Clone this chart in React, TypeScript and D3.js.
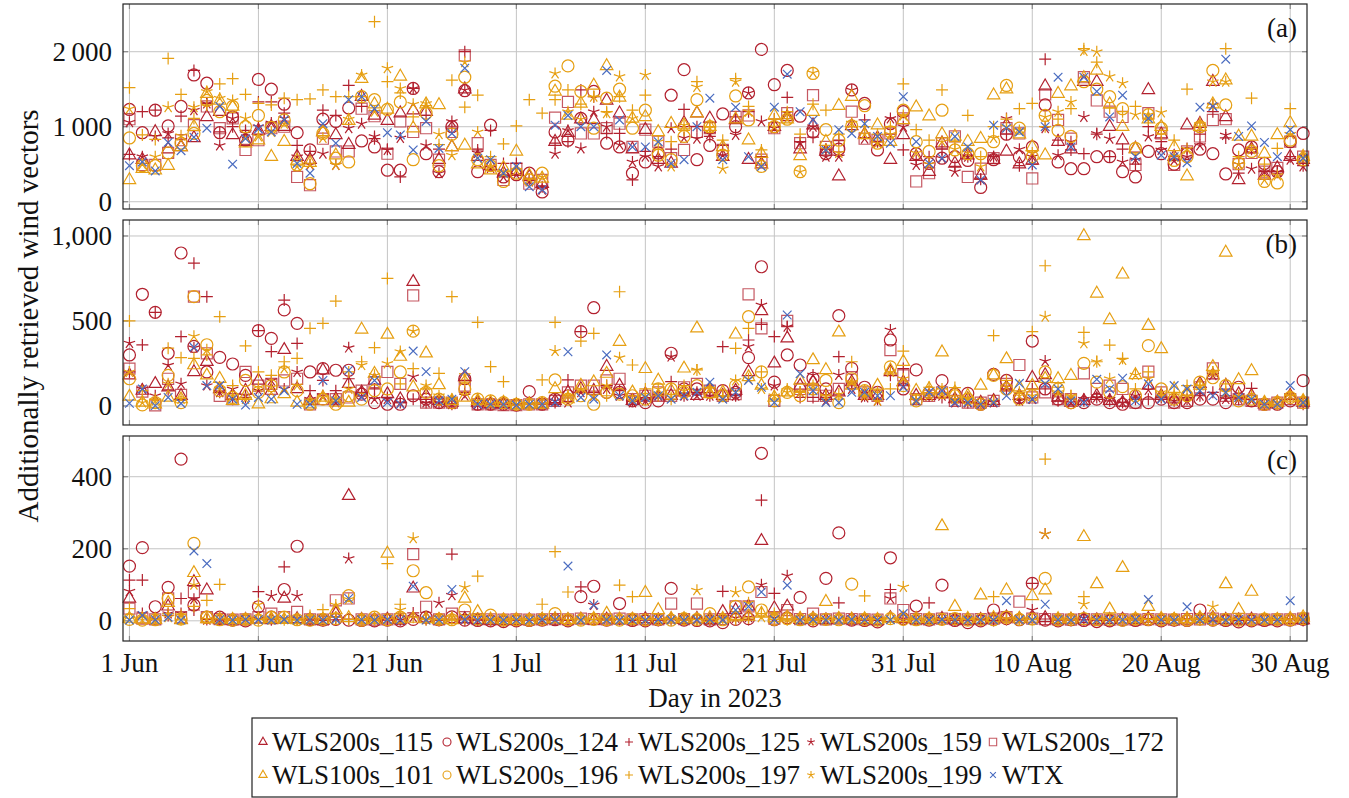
import React, { useEffect, useRef } from 'react';
import * as d3 from 'd3';

// series in legend order
const seriesNames = ['WLS200s_115', 'WLS200s_124', 'WLS200s_125', 'WLS200s_159', 'WLS200s_172',
  'WLS100s_101', 'WLS200s_196', 'WLS200s_197', 'WLS200s_199', 'WTX'];
const seriesMarkers = ['triangle', 'circle', 'plus', 'star', 'square', 'triangle', 'circle', 'plus', 'star', 'cross'];
const RED = '#b2202e';
const YEL = '#e69f12';
const BLUE = '#4a6cc0';
const seriesColors = [RED, RED, RED, RED, RED, YEL, YEL, YEL, YEL, BLUE];

// day index 0 = 1 Jun 2023 ... 91 = 31 Aug 2023
const days = d3.range(92);
const startDate = new Date(2023, 5, 1);
const xTickDays = [0, 10, 20, 30, 40, 50, 60, 70, 80, 90];

// panel (a)
const a115 = [620, 560, 930, 700, 730, 850, 1130, 1200, 890, 800, 950, 1000, 1000, 600, 560, 930, 890, 760, 1400, 1150,
  1080, 1180, 1220, 1200, 560, 730, 1500, 600, 480, 380, 400, 330, 240, 800, 920, 1100, 1090, 1350, 1180, 700,
  960, 560, 510, 1050, 1180, 1110, 600, 1090, 560, 500, 1000, 1130, 700, 1020, 670, 340, 1010, 900, 850, 560,
  890, 600, 400, 780, 510, 620, 350, 560, 670, 500, 550, 1540, 800, 700, 1600, 1600, 1000, 820, 710, 1490,
  900, 600, 1020, 1040, 1600, 1130, 290, 700, 350, 450, 600, 560];
const a124 = [1230, 920, 1220, 1010, 1270, 1690, 1580, 920, 1130, 820, 1630, 1500, 1300, 920, 690, 1100, 1070, 1250, 810, 730,
  420, 420, 1510, 640, 400, 1000, 1480, 400, 1020, 330, 360, 380, 130, 930, 820, 1110, 1470, 780, 730, 380,
  530, 650, 1420, 1760, 560, 750, 1170, 1000, 1450, 2030, 1560, 1750, 1140, 930, 640, 700, 1490, 1310, 690, 1040,
  1200, 640, 510, 580, 600, 550, 190, 560, 900, 600, 730, 1290, 530, 440, 440, 600, 600, 400, 330, 670,
  640, 500, 640, 700, 640, 370, 690, 730, 510, 400, 800, 910];
const a125 = [630, 1200, 1220, 850, 1140, 1750, 1310, 930, 1000, 950, 1330, 1330, 1180, 750, 670, 1220, 1150, 1550, 1270, 840,
  700, 330, 1510, 1150, 700, 980, 2000, 690, 950, 510, 510, 300, 200, 780, 800, 1490, 1400, 910, 910, 290,
  670, 600, 700, 1230, 1000, 870, 750, 1130, 1200, 600, 1100, 1390, 800, 860, 700, 820, 1000, 1090, 800, 900,
  690, 550, 600, 700, 470, 600, 300, 600, 900, 480, 500, 1900, 820, 690, 640, 900, 600, 700, 500, 1000,
  800, 600, 710, 900, 1200, 850, 380, 700, 400, 400, 600, 480];
const a159 = [1060, 600, 870, 910, 820, 1220, 1310, 750, 1110, 910, 1000, 1050, 1110, 600, 490, 640, 490, 980, 1040, 870,
  690, 850, 1510, 750, 380, 1070, 1490, 650, 450, 330, 360, 270, 160, 640, 950, 710, 1200, 1000, 760, 530,
  600, 470, 980, 850, 840, 900, 620, 890, 1450, 1070, 980, 1180, 780, 1000, 600, 600, 1490, 840, 800, 1110,
  1000, 490, 500, 580, 400, 600, 300, 600, 1110, 700, 600, 980, 620, 800, 1130, 910, 840, 530, 560, 870,
  690, 550, 600, 750, 1290, 890, 500, 440, 400, 400, 560, 470];
const a172 = [1100, 490, 490, 650, 820, 1020, 1270, 980, 1110, 690, 820, 980, 1000, 330, 220, 840, 670, 670, 1240, 1140,
  640, 1070, 930, 980, 560, 930, 1950, 780, 490, 290, 440, 240, 290, 1120, 1330, 910, 910, 980, 1040, 730,
  960, 800, 580, 690, 930, 980, 690, 1130, 1150, 560, 980, 1180, 780, 1420, 730, 740, 1200, 840, 820, 910,
  1110, 270, 380, 780, 870, 330, 440, 580, 980, 910, 310, 1430, 1090, 840, 1660, 1350, 1200, 1130, 490, 1180,
  910, 490, 670, 870, 1090, 1100, 500, 650, 400, 450, 800, 600];
const a101 = [290, 440, 420, 480, 730, 1000, 1440, 1350, 1270, 780, 820, 600, 800, 550, 520, 930, 620, 1080, 1640, 1300,
  1230, 1670, 980, 1300, 1290, 730, 750, 500, 420, 450, 670, 350, 310, 1470, 1150, 1310, 1550, 1810, 1390, 1110,
  1130, 930, 1040, 1020, 1180, 1000, 730, 1100, 820, 640, 1150, 1100, 610, 1200, 800, 1280, 1400, 890, 1020, 800,
  1090, 1260, 1140, 900, 870, 800, 840, 1420, 1500, 900, 730, 620, 1440, 1540, 1650, 1750, 1300, 1000, 700, 1100,
  1000, 730, 340, 1000, 1300, 1620, 870, 870, 640, 890, 1050, 600];
const a196 = [850, 480, 480, 650, 780, 910, 1350, 1200, 1270, 1000, 1150, 990, 1090, 490, 240, 910, 580, 530, 1400, 1360,
  1230, 1330, 560, 1180, 480, 900, 1660, 560, 480, 270, 380, 290, 380, 1540, 1810, 1470, 980, 1380, 1500, 980,
  1220, 620, 560, 870, 1360, 1000, 620, 1410, 1090, 470, 1000, 1100, 400, 1710, 960, 820, 1010, 1280, 780, 930,
  1220, 800, 670, 1220, 690, 640, 640, 800, 1550, 980, 600, 1150, 950, 870, 1600, 1500, 1400, 1240, 710, 1160,
  980, 550, 600, 1000, 1750, 1290, 510, 670, 270, 250, 820, 560];
const a197 = [1520, 890, 830, 1910, 1430, 1110, 1290, 1570, 1640, 1430, 1310, 1290, 1380, 1360, 1370, 1490, 1400, 1400, 1400, 2400,
  1600, 1450, 1130, 1280, 760, 1620, 1260, 1420, 600, 770, 1010, 1360, 1180, 1360, 1490, 1300, 1400, 1200, 1400, 1220,
  1420, 700, 800, 950, 1600, 1000, 820, 1640, 1270, 690, 1100, 1200, 900, 1300, 1220, 900, 1000, 1000, 900, 1000,
  1570, 960, 820, 1490, 800, 1150, 600, 1000, 1100, 1240, 1310, 1000, 1100, 1240, 2040, 1860, 1250, 1200, 1270, 1100,
  900, 820, 1500, 1050, 1300, 2040, 600, 1380, 500, 710, 1240, 600];
const a199 = [1240, 500, 600, 1260, 880, 1260, 1470, 1380, 1350, 1110, 870, 930, 1040, 470, 500, 850, 490, 1100, 1690, 1200,
  1780, 1510, 1300, 1310, 900, 620, 1860, 930, 470, 400, 420, 300, 330, 1710, 1200, 1100, 1400, 1180, 1670, 1110,
  1690, 800, 470, 1020, 1530, 980, 440, 1600, 1200, 500, 1000, 1100, 400, 1720, 700, 650, 1050, 900, 780, 900,
  1150, 650, 500, 800, 700, 650, 470, 850, 1000, 950, 650, 1130, 1200, 1330, 2010, 2000, 1670, 1580, 1160, 1160,
  1190, 600, 700, 1000, 1600, 1600, 500, 700, 290, 350, 900, 580];
const aWTX = [480, 530, 410, 790, 680, 860, 980, 1270, 500, 840, 970, 930, 1090, 510, 380, 1040, 780, 1360, 1400, 1240,
  920, 890, 690, 1070, 710, 910, 1780, 580, 560, 380, 470, 200, 160, 1020, 1150, 1000, 1000, 1750, 1090, 730,
  730, 800, 510, 560, 1000, 1380, 560, 1260, 600, 470, 1260, 1700, 1200, 1090, 690, 960, 910, 1040, 870, 780,
  1400, 800, 510, 580, 870, 730, 290, 1020, 980, 930, 490, 1000, 1660, 730, 1660, 1470, 1130, 1420, 600, 1110,
  620, 600, 520, 1260, 1270, 1900, 870, 1010, 790, 600, 960, 580];

// panel (b)
const b115 = [180, 90, 130, 110, 60, 200, 260, 100, 60, 90, 150, 90, 330, 100, 30, 210, 40, 130, 80, 150,
  70, 40, 730, 60, 30, 20, 170, 20, 10, 10, 5, 10, 10, 30, 80, 100, 90, 231, 120, 30,
  70, 50, 60, 80, 60, 100, 60, 90, 200, 559, 251, 398, 120, 140, 60, 80, 140, 60, 60, 200,
  140, 60, 60, 70, 40, 40, 20, 30, 110, 60, 166, 182, 50, 20, 30, 60, 30, 20, 60, 120,
  60, 40, 70, 130, 180, 120, 70, 60, 10, 20, 60, 20];
const b124 = [300, 657, 551, 310, 900, 350, 200, 286, 247, 180, 443, 398, 565, 486, 200, 220, 210, 210, 70, 20,
  10, 10, 60, 40, 20, 20, 160, 10, 10, 10, 5, 84, 10, 40, 60, 437, 578, 80, 80, 30,
  20, 30, 310, 100, 100, 80, 90, 80, 284, 819, 140, 300, 241, 163, 100, 531, 221, 110, 80, 388,
  100, 212, 80, 149, 70, 74, 10, 186, 150, 50, 382, 100, 40, 20, 20, 40, 20, 10, 20, 20,
  40, 20, 20, 40, 40, 20, 110, 30, 10, 10, 30, 149];
const b125 = [200, 359, 551, 95, 408, 840, 643, 80, 40, 50, 443, 320, 623, 368, 90, 150, 90, 160, 80, 100,
  50, 20, 40, 20, 20, 10, 80, 10, 10, 10, 5, 10, 10, 20, 153, 437, 80, 120, 90, 30,
  40, 60, 143, 60, 80, 60, 349, 60, 388, 480, 408, 466, 50, 50, 50, 290, 130, 60, 40, 180,
  220, 40, 60, 50, 40, 20, 10, 30, 100, 40, 100, 100, 30, 40, 30, 50, 30, 20, 40, 40,
  50, 30, 40, 60, 80, 60, 40, 104, 10, 10, 40, 10];
const b159 = [370, 100, 60, 240, 130, 343, 120, 80, 100, 60, 90, 150, 100, 200, 40, 60, 20, 343, 60, 40,
  40, 20, 172, 20, 20, 10, 60, 10, 10, 10, 5, 10, 10, 30, 20, 80, 60, 100, 60, 20,
  30, 60, 290, 60, 60, 60, 50, 60, 350, 594, 120, 466, 80, 182, 30, 182, 100, 50, 30, 447,
  120, 30, 60, 60, 20, 20, 10, 20, 110, 30, 40, 264, 50, 20, 40, 50, 40, 20, 60, 94,
  50, 30, 30, 60, 180, 40, 40, 30, 10, 20, 60, 20];
const b172 = [220, 85, 3, 160, 65, 643, 310, 60, 40, 200, 120, 130, 150, 160, 10, 40, 40, 50, 90, 140,
  200, 130, 650, 20, 20, 20, 120, 10, 10, 5, 5, 10, 10, 30, 80, 120, 120, 150, 160, 40,
  60, 80, 60, 110, 130, 90, 60, 70, 657, 457, 30, 500, 100, 60, 60, 100, 170, 80, 60, 329,
  180, 40, 60, 80, 30, 20, 20, 30, 130, 241, 50, 80, 40, 40, 192, 100, 120, 100, 20, 202,
  80, 20, 30, 110, 221, 60, 40, 30, 10, 20, 40, 20];
const b101 = [55, 20, 10, 50, 40, 240, 180, 160, 30, 60, 10, 40, 70, 20, 10, 50, 20, 20, 450, 190,
  420, 290, 110, 310, 123, 30, 50, 30, 20, 20, 5, 10, 10, 100, 40, 120, 140, 190, 378, 80,
  218, 150, 90, 221, 457, 70, 80, 421, 170, 120, 50, 80, 150, 270, 212, 433, 120, 80, 120, 210,
  260, 90, 100, 316, 80, 60, 120, 180, 276, 110, 120, 160, 159, 178, 1000, 662, 506, 774, 182, 472,
  335, 100, 80, 120, 230, 903, 153, 206, 20, 20, 50, 30];
const b196 = [160, 6, 20, 180, 20, 643, 360, 90, 50, 150, 80, 120, 200, 90, 10, 40, 10, 60, 40, 90,
  100, 200, 440, 80, 40, 20, 100, 40, 30, 20, 10, 10, 20, 153, 40, 60, 10, 80, 70, 60,
  40, 100, 100, 80, 120, 80, 60, 120, 525, 200, 30, 80, 60, 100, 150, 20, 160, 90, 60, 230,
  120, 30, 80, 80, 60, 40, 10, 180, 100, 40, 60, 200, 100, 20, 251, 140, 80, 114, 60, 355,
  100, 40, 60, 140, 166, 120, 30, 40, 10, 20, 50, 20];
const b197 = [500, 90, 40, 340, 284, 280, 300, 525, 120, 353, 200, 180, 260, 280, 457, 486, 617, 200, 260, 343,
  750, 130, 220, 100, 192, 643, 140, 492, 231, 143, 5, 10, 153, 492, 60, 382, 427, 60, 672, 241,
  100, 60, 40, 120, 212, 110, 60, 339, 457, 200, 40, 100, 80, 100, 60, 40, 260, 70, 80, 100,
  323, 40, 110, 100, 108, 50, 10, 414, 150, 80, 437, 825, 110, 60, 433, 260, 358, 280, 100, 200,
  60, 80, 120, 120, 200, 130, 60, 60, 20, 10, 60, 30];
const b199 = [200, 20, 30, 130, 40, 410, 330, 100, 60, 40, 110, 110, 220, 120, 30, 50, 40, 100, 240, 180,
  250, 320, 440, 120, 60, 40, 180, 30, 10, 10, 10, 10, 10, 323, 60, 100, 60, 120, 284, 40,
  60, 100, 50, 90, 212, 100, 50, 150, 160, 100, 60, 80, 80, 120, 60, 70, 140, 60, 30, 200,
  160, 40, 60, 70, 40, 40, 20, 30, 110, 60, 60, 525, 80, 60, 368, 261, 160, 270, 182, 160,
  80, 60, 60, 120, 200, 80, 50, 40, 10, 20, 60, 30];
const bWTX = [16, 100, 2, 50, 15, 345, 120, 120, 40, 5, 50, 40, 90, 10, 10, 150, 30, 210, 50, 150,
  20, 10, 323, 202, 30, 40, 202, 10, 10, 10, 5, 10, 10, 20, 319, 50, 40, 300, 60, 30,
  50, 60, 40, 60, 80, 140, 40, 80, 150, 110, 20, 535, 190, 90, 20, 20, 80, 80, 60, 60,
  110, 30, 80, 90, 20, 20, 10, 20, 60, 133, 40, 130, 100, 30, 20, 157, 100, 163, 30, 130,
  40, 120, 100, 90, 60, 80, 50, 40, 10, 10, 120, 20];

// panel (c)
const c115 = [62, 4, 2, 40, 3, 108, 85, 2, 1, 3, 4, 2, 62, 5, 2, 1, 20, 347, 3, 2,
  4, 3, 90, 6, 2, 3, 5, 2, 1, 0, 1, 2, 3, 4, 2, 3, 1, 4, 2, 3,
  5, 2, 4, 3, 6, 2, 25, 30, 40, 222, 35, 40, 3, 6, 2, 4, 3, 2, 1, 8,
  5, 2, 3, 6, 2, 1, 3, 4, 10, 5, 6, 8, 2, 3, 5, 2, 3, 4, 2, 6,
  3, 2, 4, 5, 8, 3, 2, 4, 1, 2, 3, 2];
const c124 = [152, 203, 39, 93, 449, 44, 10, 10, 2, 0, 39, 10, 87, 207, 3, 2, 4, 2, 1, 0,
  2, 0, 4, 10, 3, 11, 2, 1, 0, -2, 0, 1, 2, 3, 0, 67, 96, 2, 48, 1,
  0, 3, 90, 2, 1, 0, -5, 4, 6, 465, 3, 8, 65, 0, 118, 244, 2, 1, -3, 175,
  6, 41, 2, 99, 1, -5, 0, 30, 6, 3, 104, 2, 0, 3, 1, -2, 0, 2, 1, 3,
  0, 2, 1, 30, 2, 1, -3, 0, 1, 0, 2, 4];
const c125 = [113, 113, 3, 15, 62, 30, 4, 2, 1, 2, 81, 3, 150, 4, 2, 1, 3, 5, 2, 1,
  2, 3, 22, 4, 1, 185, 3, 2, 1, 0, 1, 2, 3, 2, 1, 94, 3, 2, 4, 1,
  2, 1, 3, 2, 4, 2, 82, 3, 4, 335, 76, 5, 3, 2, 4, 50, 3, 2, 1, 87,
  4, 3, 50, 2, 1, 2, 3, 1, 4, 2, 104, 5, 2, 1, 3, 2, 1, 3, 2, 4,
  2, 1, 3, 4, 2, 3, 1, 2, 1, 2, 3, 1];
const c159 = [82, 20, 4, 20, 20, 60, 3, 2, 2, 3, 5, 69, 6, 69, 3, 2, 10, 173, 2, 3,
  4, 2, 10, 5, 50, 71, 4, 2, 1, 1, 2, 1, 2, 3, 2, 4, 44, 3, 2, 1,
  3, 2, 5, 3, 4, 2, 6, 8, 10, 100, 8, 125, 4, 3, 2, 5, 3, 2, 4, 62,
  6, 3, 8, 4, 2, 3, 2, 4, 6, 3, 30, 241, 2, 3, 8, 2, 3, 2, 4, 5,
  3, 2, 4, 5, 6, 3, 2, 4, 3, 2, 4, 3];
const c172 = [34, 6, 4, 62, 10, 80, 10, 5, 3, 4, 10, 20, 10, 25, 4, 3, 57, 62, 4, 3,
  4, 5, 185, 39, 4, 20, 10, 5, 4, 3, 4, 3, 4, 5, 4, 6, 5, 4, 6, 4,
  5, 4, 48, 5, 48, 4, 5, 40, 40, 80, 6, 30, 5, 20, 4, 6, 5, 4, 3, 62,
  30, 5, 4, 6, 5, 4, 5, 6, 10, 53, 6, 5, 4, 3, 5, 4, 3, 4, 3, 5,
  4, 3, 5, 4, 6, 4, 5, 4, 3, 4, 4, 6];
const c101 = [6, 4, 3, 50, 2, 133, 5, 4, 3, 2, 4, 5, 3, 2, 4, 3, 30, 8, 2, 3,
  187, 4, 6, 5, 3, 2, 62, 25, 4, 2, 3, 2, 4, 5, 3, 4, 6, 20, 4, 3,
  78, 30, 6, 5, 4, 8, 6, 10, 12, 20, 8, 10, 6, 5, 53, 6, 4, 5, 3, 6,
  8, 6, 5, 263, 39, 6, 71, 8, 85, 6, 69, 85, 5, 4, 233, 102, 32, 147, 5, 39,
  6, 4, 5, 8, 6, 102, 31, 81, 4, 3, 6, 10];
const c196 = [4, 2, 3, 62, 5, 215, 10, 3, 2, 4, 2, 10, 10, 3, 2, 4, 6, 70, 2, 10,
  3, 10, 139, 78, 4, 3, 30, 5, 16, 2, 3, 2, 4, 20, 3, 2, 4, 3, 2, 5,
  3, 4, 2, 6, 4, 20, 3, 40, 94, 30, 4, 6, 3, 5, 4, 3, 102, 4, 2, 6,
  4, 3, 5, 4, 6, 2, 4, 3, 10, 4, 5, 118, 3, 4, 6, 3, 4, 2, 5, 4,
  3, 4, 2, 5, 3, 4, 2, 3, 5, 4, 3, 6];
const c197 = [34, 10, 4, 20, 3, 40, 57, 101, 2, 3, 4, 10, 3, 2, 15, 31, 10, 4, 3, 2,
  159, 46, 10, 4, 3, 2, 5, 124, 3, 2, 3, 4, 46, 192, 80, 3, 4, 2, 99, 67,
  4, 3, 5, 2, 4, 3, 6, 4, 8, 20, 4, 3, 5, 2, 4, 6, 3, 69, 4, 5,
  3, 4, 2, 5, 3, 4, 2, 67, 5, 3, 4, 449, 3, 2, 67, 4, 3, 5, 2, 4,
  3, 2, 4, 3, 5, 2, 4, 3, 2, 4, 3, 5];
const c199 = [5, 3, 2, 10, 15, 100, 4, 3, 2, 4, 45, 3, 4, 2, 5, 3, 44, 60, 2, 4,
  3, 30, 229, 4, 2, 10, 93, 3, 4, 2, 3, 2, 4, 3, 2, 5, 3, 4, 2, 3,
  4, 2, 3, 5, 85, 4, 3, 79, 50, 10, 20, 4, 3, 2, 5, 3, 4, 2, 3, 5,
  94, 3, 4, 2, 5, 3, 4, 3, 6, 4, 5, 241, 3, 4, 46, 3, 4, 2, 5, 3,
  4, 3, 2, 4, 39, 3, 4, 2, 3, 4, 3, 5];
const cWTX = [2, 15, 3, 10, 2, 194, 159, 3, 2, 4, 3, 2, 4, 2, 3, 2, 4, 62, 3, 2,
  4, 3, 96, 2, 3, 87, 4, 2, 3, 2, 3, 2, 4, 3, 152, 2, 44, 3, 2, 3,
  2, 4, 3, 2, 3, 4, 2, 30, 40, 80, 3, 99, 2, 4, 3, 2, 4, 3, 2, 3,
  20, 3, 2, 4, 3, 2, 3, 2, 56, 3, 2, 46, 3, 2, 4, 3, 2, 3, 4, 59,
  3, 2, 39, 4, 3, 2, 4, 3, 2, 3, 56, 3];

const yTicksA = [0, 1000, 2000];
const yLabelsA = ['0', '1\u2009000', '2\u2009000'];
const yTicksB = [0, 500, 1000];
const yLabelsB = ['0', '500', '1,000'];
const yTicksC = [0, 200, 400];
const yLabelsC = ['0', '200', '400'];

const FONT = 'Liberation Serif, DejaVu Serif, Times New Roman, serif';
const FS = 27;

function markerPath(type: string, r: number): string {
  if (type === 'circle') return `M${r},0A${r},${r} 0 1,1 ${-r},0A${r},${r} 0 1,1 ${r},0Z`;
  if (type === 'triangle') {
    const t = r * 1.2;
    return `M0,${-t}L${t * 0.866},${t * 0.5}L${-t * 0.866},${t * 0.5}Z`;
  }
  if (type === 'square') {
    const s = r * 0.92;
    return `M${-s},${-s}H${s}V${s}H${-s}Z`;
  }
  if (type === 'plus') return `M${-r},0H${r}M0,${-r}V${r}`;
  if (type === 'cross') {
    const c = r * 0.72;
    return `M${-c},${-c}L${c},${c}M${-c},${c}L${c},${-c}`;
  }
  // 5-armed star
  let p = '';
  for (let k = 0; k < 5; k++) {
    const ang = (-90 + 72 * k) * Math.PI / 180;
    p += `M0,0L${(r * Math.cos(ang)).toFixed(2)},${(r * Math.sin(ang)).toFixed(2)}`;
  }
  return p;
}

function addText(sel: any, x: number, y: number, txt: string, anchor = 'start', size = FS) {
  return sel.append('text')
    .attr('x', x).attr('y', y)
    .attr('dy', '0.35em')
    .attr('text-anchor', anchor)
    .attr('font-family', FONT)
    .attr('font-size', size)
    .attr('fill', '#111')
    .text(txt);
}

function drawChart(container: HTMLDivElement) {
  d3.select(container).selectAll('*').remove();
  const width = 1349;
  const height = 798;
  const left = 123, right = 1307;

  const svg = d3.select(container).append('svg')
    .attr('width', width)
    .attr('height', height)
    .style('display', 'block')
    .style('background', '#fff');

  const x = d3.scaleLinear().domain([-0.5, 91.3]).range([left, right]);
  const fmt = d3.timeFormat('%-d %b');

  const panels = [
    { label: '(a)', top: 4, bottom: 209, domain: [-97, 2636], ticks: yTicksA, labels: yLabelsA,
      data: [a115, a124, a125, a159, a172, a101, a196, a197, a199, aWTX] },
    { label: '(b)', top: 220, bottom: 425, domain: [-112, 1094], ticks: yTicksB, labels: yLabelsB,
      data: [b115, b124, b125, b159, b172, b101, b196, b197, b199, bWTX] },
    { label: '(c)', top: 436, bottom: 641, domain: [-56, 513], ticks: yTicksC, labels: yLabelsC,
      data: [c115, c124, c125, c159, c172, c101, c196, c197, c199, cWTX] },
  ];

  panels.forEach((p, pi) => {
    const y = d3.scaleLinear().domain(p.domain).range([p.bottom, p.top]);
    const g = svg.append('g');

    // grid
    g.selectAll('.vgrid').data(xTickDays).enter().append('line')
      .attr('x1', d => x(d)).attr('x2', d => x(d))
      .attr('y1', p.top).attr('y2', p.bottom)
      .attr('stroke', '#c4c4c4').attr('stroke-width', 1);
    g.selectAll('.hgrid').data(p.ticks).enter().append('line')
      .attr('x1', left).attr('x2', right)
      .attr('y1', d => y(d)).attr('y2', d => y(d))
      .attr('stroke', '#c4c4c4').attr('stroke-width', 1);

    // tick marks inside frame
    const tk = 5;
    xTickDays.forEach(d => {
      g.append('line').attr('x1', x(d)).attr('x2', x(d)).attr('y1', p.bottom).attr('y2', p.bottom - tk)
        .attr('stroke', '#8a8a8a').attr('stroke-width', 1.2);
      g.append('line').attr('x1', x(d)).attr('x2', x(d)).attr('y1', p.top).attr('y2', p.top + tk)
        .attr('stroke', '#8a8a8a').attr('stroke-width', 1.2);
    });
    p.ticks.forEach(t => {
      g.append('line').attr('x1', left).attr('x2', left + tk).attr('y1', y(t)).attr('y2', y(t))
        .attr('stroke', '#8a8a8a').attr('stroke-width', 1.2);
      g.append('line').attr('x1', right).attr('x2', right - tk).attr('y1', y(t)).attr('y2', y(t))
        .attr('stroke', '#8a8a8a').attr('stroke-width', 1.2);
    });

    // markers
    p.data.forEach((vals, si) => {
      const path = markerPath(seriesMarkers[si], 6);
      g.append('g')
        .selectAll('path')
        .data(days)
        .enter().append('path')
        .attr('d', path)
        .attr('transform', d => `translate(${x(d)},${y(vals[d])})`)
        .attr('fill', 'none')
        .attr('stroke', seriesColors[si])
        .attr('stroke-opacity', seriesMarkers[si] === 'square' ? 0.75 : 1)
        .attr('stroke-width', 1.2);
    });

    // frame
    g.append('rect')
      .attr('x', left).attr('y', p.top)
      .attr('width', right - left).attr('height', p.bottom - p.top)
      .attr('fill', 'none').attr('stroke', '#222').attr('stroke-width', 1.2);

    // y tick labels
    p.ticks.forEach((t, i) => addText(g, 112, y(t), p.labels[i], 'end'));

    // panel label
    addText(g, right - 10, p.top + 24, p.label, 'end');

    if (pi === panels.length - 1) {
      xTickDays.forEach(d => addText(g, x(d), p.bottom + 22, fmt(d3.timeDay.offset(startDate, d)), 'middle'));
    }
  });

  // axis titles
  addText(svg, 715, 698, 'Day in 2023', 'middle');
  addText(svg, 0, 0, 'Additionally retrieved wind vectors', 'middle', 29)
    .attr('transform', 'translate(28,316) rotate(-90)');

  // legend
  const legend = svg.append('g');
  legend.append('rect')
    .attr('x', 252).attr('y', 718).attr('width', 925).attr('height', 79)
    .attr('fill', '#fff').attr('stroke', '#222').attr('stroke-width', 1.2);
  const colX = [263, 447, 629, 811, 993];
  const rowY = [742, 775];
  seriesNames.forEach((name, i) => {
    const cx = colX[i % 5];
    const cy = rowY[Math.floor(i / 5)];
    legend.append('path')
      .attr('d', markerPath(seriesMarkers[i], 4))
      .attr('transform', `translate(${cx},${cy})`)
      .attr('fill', 'none')
      .attr('stroke', seriesColors[i])
      .attr('stroke-opacity', seriesMarkers[i] === 'square' ? 0.75 : 1)
      .attr('stroke-width', 1.1);
    addText(legend, cx + 9, cy, name);
  });
}

const App = () => {
  const ref = useRef<HTMLDivElement>(null);
  useEffect(() => {
    if (ref.current) drawChart(ref.current);
  }, []);
  return <div ref={ref} style={{ position: 'absolute', left: 0, top: 0 }} />;
};

export default App;
